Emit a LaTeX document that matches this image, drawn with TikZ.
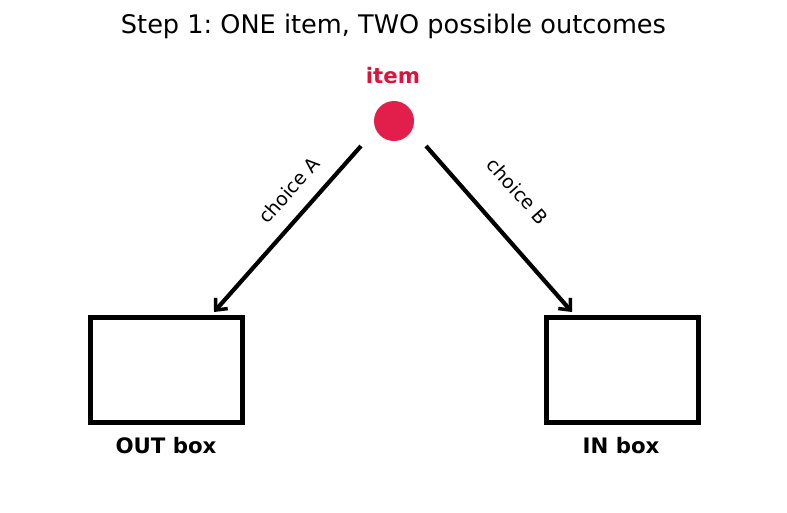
\documentclass[tikz,border=0pt]{standalone}
\usepackage{fontspec}
\setmainfont{DejaVu Sans}
\usetikzlibrary{arrows.meta}
\definecolor{itemred}{RGB}{220,20,60}
\definecolor{dotred}{RGB}{226,30,74}
\tikzset{
  boxstyle/.style={draw=black, line width=5pt, minimum width=152pt, minimum height=105pt, inner sep=0pt},
  arrowstyle/.style={line width=4.2pt, -{Straight Barb[length=9pt,width=16pt,line width=3.5pt]}},
  boxlabel/.style={font=\fontsize{21.3}{24}\selectfont\bfseries},
  choicelabel/.style={font=\fontsize{19}{22}\selectfont},
}
\begin{document}
\frenchspacing
\begin{tikzpicture}[x=1pt,y=-1pt]
\useasboundingbox (0,0) rectangle (787,512);
\node[font=\fontsize{25.6}{30}\selectfont] (title) at (393.5,26) {Step 1: ONE item, TWO possible outcomes};
\node[circle, fill=dotred, minimum size=40pt, inner sep=0pt] (dot) at (394,121) {};
\node[boxlabel, text=itemred] (itemlbl) at (393,76) {item};
\node[boxstyle] (outbox) at (166,370) {};
\node[boxstyle] (inbox) at (622,370) {};
\node[boxlabel] (outlbl) at (166,446) {OUT box};
\node[boxlabel] (inlbl) at (621,446) {IN box};
\coordinate (a0) at (361,146);
\coordinate (a1) at (214,312);
\coordinate (b0) at (426,146);
\coordinate (b1) at (572,312);
\draw[arrowstyle] (a0) -- (a1);
\draw[arrowstyle] (b0) -- (b1);
\node[choicelabel, rotate=48.5] (chA) at (289,190) {choice A};
\node[choicelabel, rotate=-48.5] (chB) at (518,191) {choice B};
\end{tikzpicture}
\end{document}
